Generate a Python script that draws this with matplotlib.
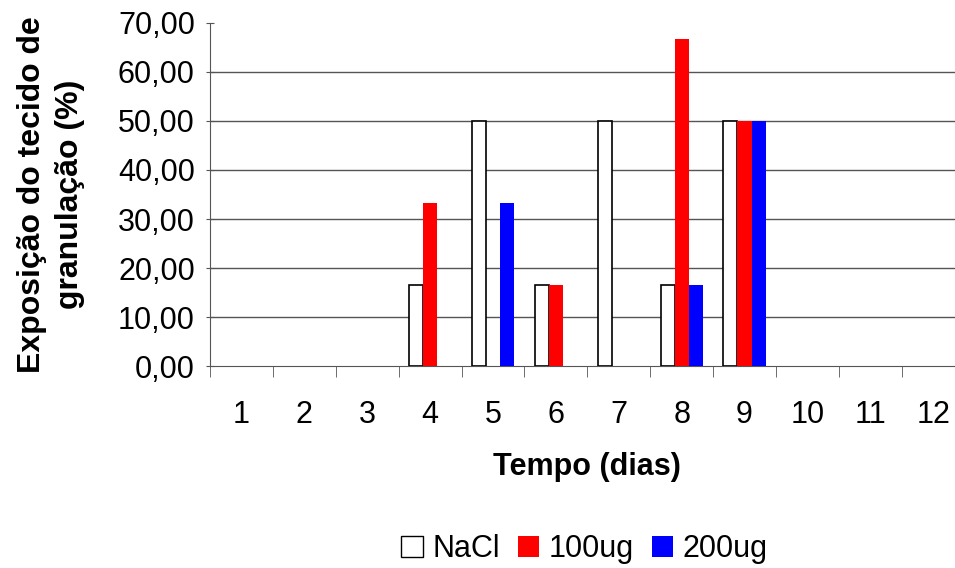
import numpy as np
import matplotlib.pyplot as plt
from matplotlib.patches import Patch
from matplotlib.ticker import FuncFormatter

plt.rcParams['font.family'] = ['Liberation Sans', 'DejaVu Sans']

dias = ['1', '2', '3', '4', '5', '6', '7', '8', '9', '10', '11', '12']
nacl = [0, 0, 0, 16.67, 50.0, 16.67, 50.0, 16.67, 50.0, 0, 0, 0]
ug100 = [0, 0, 0, 33.33, 0, 16.67, 0, 66.67, 50.0, 0, 0, 0]
ug200 = [0, 0, 0, 0, 33.33, 0, 0, 16.67, 50.0, 0, 0, 0]

fig = plt.figure(figsize=(9.55, 5.68), dpi=100)
ax = fig.add_axes([0.22, 0.355, 0.79, 0.605])

x = np.arange(len(dias))
w = 0.223
ax.bar(x - w, nacl, w, color='white', edgecolor='black', linewidth=1.2, zorder=3)
ax.bar(x, ug100, w, color='#ff0000', zorder=3)
ax.bar(x + w, ug200, w, color='#0000ff', zorder=3)
# no outline for empty bars
for p in ax.patches:
    if p.get_height() == 0:
        p.set_visible(False)

ax.set_xlim(-0.5, len(dias) - 0.5)
ax.set_ylim(0, 70)
ax.set_yticks(np.arange(0, 71, 10))
ax.yaxis.set_major_formatter(FuncFormatter(lambda v, p: f'{v:.2f}'.replace('.', ',')))
for yv in range(10, 61, 10):
    ax.axhline(yv, color='#555555', linewidth=1.0, zorder=1)

ax.set_xticks(x)
ax.set_xticklabels(dias)
ax.set_xticks(np.arange(-0.5, len(dias), 1), minor=True)
ax.tick_params(axis='x', which='major', length=0, pad=24, labelsize=22)
ax.tick_params(axis='x', which='minor', length=8, direction='out', color='#555555')
ax.tick_params(axis='y', length=6, direction='inout', labelsize=22, pad=8, color='#555555')

for s in ['top', 'right']:
    ax.spines[s].set_visible(False)
ax.spines['left'].set_color('#555555')
ax.spines['bottom'].set_color('#555555')

ax.set_xlabel('Tempo (dias)', fontsize=22, fontweight='bold', labelpad=16)
ax.set_ylabel('Exposição do tecido de\ngranulação (%)', fontsize=23, fontweight='bold',
              labelpad=24, linespacing=1.35)

handles = [Patch(facecolor='white', edgecolor='black', label='NaCl'),
           Patch(facecolor='#ff0000', label='100ug'),
           Patch(facecolor='#0000ff', label='200ug')]
fig.legend(handles=handles, loc='center', bbox_to_anchor=(0.612, 0.033), ncol=3, frameon=False,
           fontsize=22, handlelength=0.7, handleheight=0.7, handletextpad=0.3, columnspacing=0.6)

fig.savefig('out.png', dpi=100)
